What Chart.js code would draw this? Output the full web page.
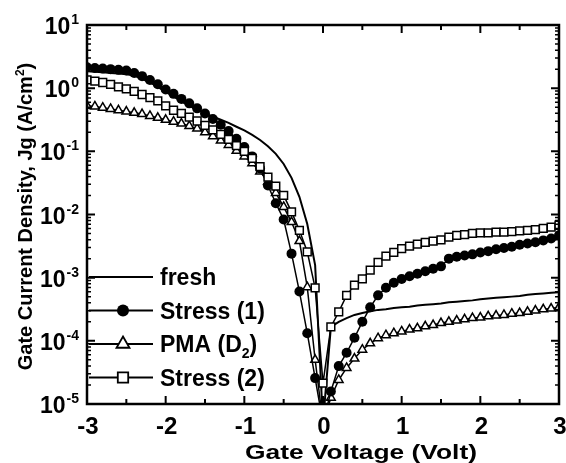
<!DOCTYPE html>
<html>
<head>
<meta charset="utf-8">
<script src="https://cdn.jsdelivr.net/npm/chart.js@4.4.0/dist/chart.umd.min.js"></script>
<style>
  html, body { margin: 0; padding: 0; background: #fff; }
  #wrap { width: 566px; height: 463px; }
</style>
</head>
<body>
<div id="wrap"><canvas id="jgChart"></canvas></div>
<script>
// Gate voltage (V), 0.1 V steps
const voltage = [
  -3.0, -2.9, -2.8, -2.7, -2.6, -2.5, -2.4, -2.3, -2.2, -2.1,
  -2.0, -1.9, -1.8, -1.7, -1.6, -1.5, -1.4, -1.3, -1.2, -1.1,
  -1.0, -0.9, -0.8, -0.7, -0.6, -0.5, -0.4, -0.3, -0.2, -0.1,
  0.0, 0.1, 0.2, 0.3, 0.4, 0.5, 0.6, 0.7, 0.8, 0.9,
  1.0, 1.1, 1.2, 1.3, 1.4, 1.5, 1.6, 1.7, 1.8, 1.9,
  2.0, 2.1, 2.2, 2.3, 2.4, 2.5, 2.6, 2.7, 2.8, 2.9, 3.0
];

// Gate current density Jg (A/cm2)
const fresh = [
  1.86, 1.82, 1.78, 1.74, 1.70, 1.66, 1.58, 1.41, 1.23, 1.05,
  8.71e-1, 7.41e-1, 6.17e-1, 5.25e-1, 4.57e-1, 3.98e-1, 3.55e-1, 3.16e-1, 2.82e-1, 2.45e-1,
  2.14e-1, 1.82e-1, 1.51e-1, 1.20e-1, 9.12e-2, 6.31e-2, 3.80e-2, 1.91e-2, 7.08e-3, 1.58e-3,
  5e-6, 1.66e-4, 2.00e-4, 2.29e-4, 2.57e-4, 2.75e-4, 2.95e-4, 3.09e-4, 3.16e-4, 3.31e-4,
  3.39e-4, 3.47e-4, 3.63e-4, 3.72e-4, 3.80e-4, 3.89e-4, 4.07e-4, 4.17e-4, 4.27e-4, 4.37e-4,
  4.57e-4, 4.68e-4, 4.79e-4, 4.90e-4, 5.01e-4, 5.13e-4, 5.37e-4, 5.50e-4, 5.62e-4, 5.75e-4, 5.89e-4
];
const stress1 = [
  2.14, 2.09, 2.04, 2.00, 1.95, 1.91, 1.74, 1.55, 1.35, 1.15,
  9.55e-1, 8.13e-1, 6.76e-1, 5.75e-1, 4.79e-1, 3.98e-1, 3.24e-1, 2.63e-1, 2.09e-1, 1.58e-1,
  1.17e-1, 8.32e-2, 5.37e-2, 2.88e-2, 1.51e-2, 8.32e-3, 2.40e-3, 6.03e-4, 1.32e-4, 2.57e-5,
  5e-6, 1.58e-5, 3.98e-5, 6.46e-5, 1.12e-4, 2.00e-4, 3.39e-4, 5.25e-4, 6.92e-4, 8.32e-4,
  9.55e-4, 1.05e-3, 1.15e-3, 1.26e-3, 1.38e-3, 1.51e-3, 2.00e-3, 2.14e-3, 2.24e-3, 2.34e-3,
  2.51e-3, 2.63e-3, 2.82e-3, 2.95e-3, 3.09e-3, 3.31e-3, 3.47e-3, 3.63e-3, 3.89e-3, 4.17e-3, 4.68e-3
];
const pmaD2 = [
  5.25e-1, 5.13e-1, 4.90e-1, 4.68e-1, 4.47e-1, 4.27e-1, 4.07e-1, 3.89e-1, 3.63e-1, 3.39e-1,
  3.16e-1, 2.95e-1, 2.75e-1, 2.51e-1, 2.29e-1, 2.00e-1, 1.74e-1, 1.48e-1, 1.26e-1, 1.02e-1,
  8.32e-2, 6.46e-2, 4.79e-2, 3.31e-2, 2.19e-2, 1.32e-2, 7.59e-3, 3.80e-3, 7.08e-4, 5.01e-5,
  5e-6, 1.26e-5, 2.40e-5, 3.72e-5, 5.25e-5, 7.24e-5, 9.12e-5, 1.10e-4, 1.23e-4, 1.32e-4,
  1.41e-4, 1.51e-4, 1.58e-4, 1.70e-4, 1.78e-4, 1.91e-4, 2.00e-4, 2.09e-4, 2.19e-4, 2.29e-4,
  2.34e-4, 2.45e-4, 2.51e-4, 2.57e-4, 2.69e-4, 2.75e-4, 2.88e-4, 3.02e-4, 3.16e-4, 3.24e-4, 3.39e-4
];
const stress2 = [
  1.35, 1.29, 1.23, 1.15, 1.05, 9.77e-1, 8.91e-1, 7.94e-1, 7.08e-1, 6.31e-1,
  5.25e-1, 4.47e-1, 3.98e-1, 3.47e-1, 3.02e-1, 2.57e-1, 2.19e-1, 1.86e-1, 1.55e-1, 1.23e-1,
  1.00e-1, 7.76e-2, 5.75e-2, 3.89e-2, 2.82e-2, 2.00e-2, 1.10e-2, 5.62e-3, 2.57e-3, 6.92e-4,
  2.14e-5, 1.66e-4, 2.88e-4, 5.25e-4, 7.59e-4, 9.55e-4, 1.32e-3, 1.74e-3, 2.19e-3, 2.51e-3,
  2.88e-3, 3.16e-3, 3.39e-3, 3.63e-3, 3.80e-3, 3.98e-3, 4.37e-3, 4.68e-3, 4.79e-3, 5.01e-3,
  5.13e-3, 5.13e-3, 5.25e-3, 5.25e-3, 5.37e-3, 5.50e-3, 5.62e-3, 5.75e-3, 6.03e-3, 6.31e-3, 6.76e-3
];

const seriesLabels = ["fresh", "Stress (1)", "PMA (D_2)", "Stress (2)"];
const xTicks = [-3, -2, -1, 0, 1, 2, 3];
const xTickLabels = ["-3", "-2", "-1", "0", "1", "2", "3"];
const yExponents = [-5, -4, -3, -2, -1, 0, 1];
const yTickLabels = ["-5", "-4", "-3", "-2", "-1", "0", "1"];

const FONT = '"Liberation Sans", Arial, Helvetica, sans-serif';

function toPoints(ys) {
  return voltage.map((v, i) => ({ x: v, y: ys[i] }));
}

// split "A/cm^2" or "D_2" into normal / super / sub pieces
function richParts(text) {
  const parts = [];
  let buf = "";
  for (let i = 0; i < text.length; i++) {
    const c = text[i];
    if ((c === "^" || c === "_") && i + 1 < text.length) {
      if (buf) parts.push({ t: buf, k: "n" });
      buf = "";
      parts.push({ t: text[i + 1], k: c });
      i++;
    } else {
      buf += c;
    }
  }
  if (buf) parts.push({ t: buf, k: "n" });
  return parts;
}

function drawRich(ctx, text, x, y, size, measureOnly) {
  let cx = x;
  richParts(text).forEach((p) => {
    const s = p.k === "n" ? size : Math.round(size * 0.62);
    const dy = p.k === "^" ? -size * 0.42 : p.k === "_" ? size * 0.25 : 0;
    ctx.font = "bold " + s + "px " + FONT;
    if (!measureOnly) ctx.fillText(p.t, cx, y + dy);
    cx += ctx.measureText(p.t).width;
  });
  return cx - x;
}

function drawMarker(ctx, style, x, y, r) {
  ctx.beginPath();
  if (style === "circle") {
    ctx.arc(x, y, r, 0, Math.PI * 2);
    ctx.fillStyle = "#000";
    ctx.fill();
    return;
  }
  if (style === "triangle") {
    ctx.moveTo(x, y - r);
    ctx.lineTo(x + r * 0.866, y + r * 0.5);
    ctx.lineTo(x - r * 0.866, y + r * 0.5);
    ctx.closePath();
  } else {
    ctx.rect(x - r * 0.8, y - r * 0.8, r * 1.6, r * 1.6);
  }
  ctx.fillStyle = "#fff";
  ctx.fill();
  ctx.lineWidth = 1.8;
  ctx.strokeStyle = "#000";
  ctx.stroke();
}

const decorations = {
  id: "decorations",
  afterDraw(chart) {
    const ctx = chart.ctx;
    const a = chart.chartArea;
    const xs = chart.scales.x;
    const ys = chart.scales.y;
    ctx.save();
    ctx.strokeStyle = "#000";
    ctx.fillStyle = "#000";

    // frame
    ctx.lineWidth = 2.5;
    ctx.strokeRect(a.left, a.top, a.right - a.left, a.bottom - a.top);

    // x ticks (major every 1, minor every 0.5), inward top and bottom
    ctx.lineWidth = 2;
    for (let i = 0; i < xTicks.length; i++) {
      [0, 0.5].forEach((off) => {
        const v = xTicks[i] + off;
        if (v > 3) return;
        const px = xs.getPixelForValue(v);
        const len = off === 0 ? 8 : 5;
        ctx.beginPath();
        ctx.moveTo(px, a.bottom);
        ctx.lineTo(px, a.bottom - len);
        ctx.moveTo(px, a.top);
        ctx.lineTo(px, a.top + len);
        ctx.stroke();
      });
    }

    // y ticks (decades + minor 2..9), inward left and right
    yExponents.forEach((e) => {
      for (let m = 1; m <= 9; m++) {
        if (e === 1 && m > 1) break;
        const py = ys.getPixelForValue(m * Math.pow(10, e));
        const len = m === 1 ? 8 : 4;
        ctx.lineWidth = m === 1 ? 2 : 1.5;
        ctx.beginPath();
        ctx.moveTo(a.left, py);
        ctx.lineTo(a.left + len, py);
        ctx.moveTo(a.right, py);
        ctx.lineTo(a.right - len, py);
        ctx.stroke();
      }
    });

    // x tick labels
    ctx.textAlign = "center";
    ctx.textBaseline = "alphabetic";
    ctx.font = "bold 24px " + FONT;
    xTicks.forEach((v, i) => {
      ctx.fillText(xTickLabels[i], xs.getPixelForValue(v) + 1, a.bottom + 30);
    });

    // y tick labels: 10 with raised exponent
    ctx.textAlign = "left";
    yExponents.forEach((e, i) => {
      const py = ys.getPixelForValue(Math.pow(10, e));
      ctx.font = "bold 14px " + FONT;
      const ew = ctx.measureText(yTickLabels[i]).width;
      ctx.font = "bold 23px " + FONT;
      const bw = ctx.measureText("10").width;
      const right = a.left - 8;
      ctx.fillText("10", right - ew - bw - 1, py + 9);
      ctx.font = "bold 14px " + FONT;
      ctx.fillText(yTickLabels[i], right - ew, py - 1);
    });

    // y axis title
    const yTitle = "Gate Current Density, Jg (A/cm^2)";
    ctx.save();
    ctx.translate(32, (a.top + a.bottom) / 2 + 2);
    ctx.rotate(-Math.PI / 2);
    const yw = drawRich(ctx, yTitle, 0, 0, 20, true);
    drawRich(ctx, yTitle, -yw / 2, 0, 20, false);
    ctx.restore();

    // x axis title
    const xTitle = "Gate Voltage (Volt)";
    ctx.save();
    ctx.font = "bold 20px " + FONT;
    const xw = ctx.measureText(xTitle).width;
    ctx.translate(361, 459);
    ctx.scale(232 / xw, 1);
    ctx.textAlign = "center";
    ctx.fillText(xTitle, 0, 0);
    ctx.restore();

    // legend
    const styles = [null, "circle", "triangle", "rect"];
    const radii = [0, 6, 7.5, 6.5];
    const rowY = [277, 310.5, 344, 377.5];
    ctx.textAlign = "left";
    seriesLabels.forEach((label, i) => {
      const y = rowY[i];
      ctx.lineWidth = 2;
      ctx.strokeStyle = "#000";
      ctx.beginPath();
      ctx.moveTo(a.left + 2, y);
      ctx.lineTo(153, y);
      ctx.stroke();
      if (styles[i]) drawMarker(ctx, styles[i], 123, y, radii[i]);
      ctx.fillStyle = "#000";
      drawRich(ctx, label, 160, y + 8, 23, false);
    });

    ctx.restore();
  }
};

new Chart(document.getElementById("jgChart"), {
  type: "line",
  data: {
    datasets: [
      {
        label: "fresh",
        data: toPoints(fresh),
        borderColor: "#000",
        borderWidth: 2,
        pointRadius: 0,
        order: 3
      },
      {
        label: "Stress (1)",
        data: toPoints(stress1),
        borderColor: "#000",
        borderWidth: 1.5,
        pointStyle: "circle",
        pointRadius: 5,
        pointBackgroundColor: "#000",
        pointBorderColor: "#000",
        pointBorderWidth: 0,
        order: 1
      },
      {
        label: "PMA (D₂)",
        data: toPoints(pmaD2),
        borderColor: "#000",
        borderWidth: 1.5,
        pointStyle: "triangle",
        pointRadius: 5,
        pointBackgroundColor: "#fff",
        pointBorderColor: "#000",
        pointBorderWidth: 1.5,
        order: 2
      },
      {
        label: "Stress (2)",
        data: toPoints(stress2),
        borderColor: "#000",
        borderWidth: 1.5,
        pointStyle: "rect",
        pointRadius: 5.5,
        pointBackgroundColor: "#fff",
        pointBorderColor: "#000",
        pointBorderWidth: 1.5,
        order: 0
      }
    ]
  },
  options: {
    responsive: true,
    maintainAspectRatio: false,
    animation: false,
    layout: { padding: { top: 25, right: 7, left: 0, bottom: 0 } },
    plugins: {
      legend: { display: false },
      tooltip: { enabled: false }
    },
    scales: {
      x: {
        type: "linear",
        min: -3,
        max: 3,
        ticks: { display: false },
        grid: { display: false },
        border: { display: false },
        afterFit: (scale) => { scale.height = 59; }
      },
      y: {
        type: "logarithmic",
        min: 1e-5,
        max: 10,
        ticks: { display: false },
        grid: { display: false },
        border: { display: false },
        afterFit: (scale) => { scale.width = 87; }
      }
    }
  },
  plugins: [decorations]
});
</script>
</body>
</html>
